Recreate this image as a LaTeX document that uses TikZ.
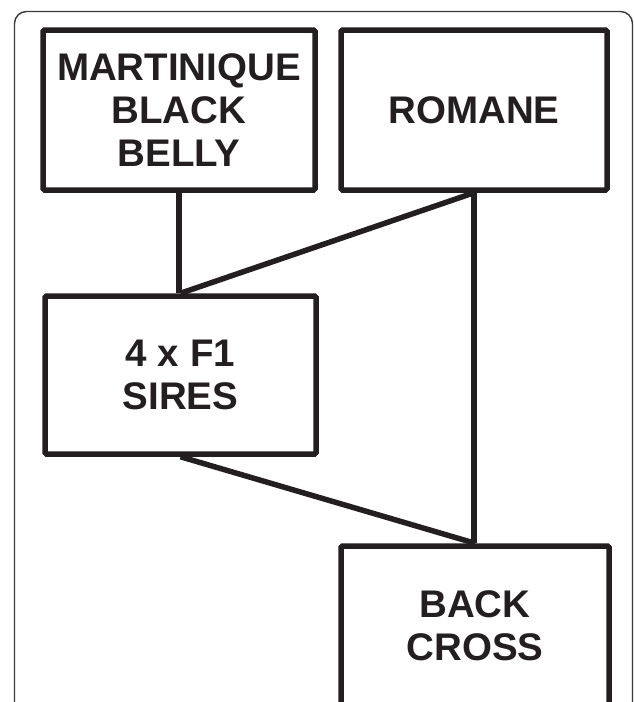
\documentclass[tikz,border=0pt]{standalone}
\usepackage{fontspec}
\setmainfont{Liberation Sans}
\definecolor{ink}{HTML}{231F20}
\definecolor{frame}{HTML}{3A3A3A}
\tikzset{
  box/.style={draw=ink, line width=5.5pt, rounded corners=1.5pt, rectangle,
    inner sep=0pt, align=center, text=ink,
    font=\bfseries\fontsize{38.5}{43}\selectfont},
  link/.style={draw=ink, line width=5.5pt}
}
\begin{document}
\begin{tikzpicture}[x=1pt,y=-1pt]
\useasboundingbox (0,0) rectangle (633,702);
\begin{scope}
\clip (0,0) rectangle (633,702);
\draw[frame, line width=1.4pt, rounded corners=12pt] (14.5,11.5) rectangle (632.5,760);
\node[box, minimum width=272pt, minimum height=160pt] (mbb) at (179,110) {MARTINIQUE\\BLACK\\BELLY};
\node[box, minimum width=266pt, minimum height=160pt] (rom) at (474,110) {ROMANE};
\node[box, minimum width=271pt, minimum height=158pt] (f1) at (180.5,375) {4 x F1\\SIRES};
\node[box, minimum width=268pt, minimum height=160pt] (bc) at (475,626) {BACK\\CROSS};
\draw[link] (mbb.south) -- (mbb.south |- f1.north);
\draw[link] (rom.south) -- (f1.north);
\draw[link] (rom.south) -- (rom.south |- bc.north);
\draw[link] (f1.south) -- (bc.north);
\end{scope}
\end{tikzpicture}
\end{document}
